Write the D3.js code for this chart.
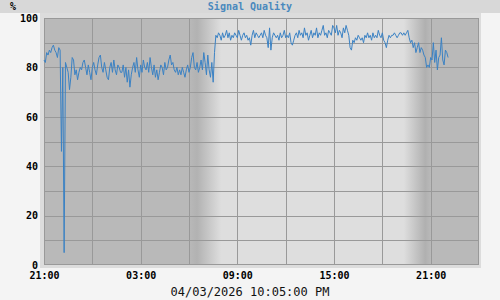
<!DOCTYPE html>
<html>
<head>
<meta charset="utf-8">
<script src="https://cdn.jsdelivr.net/npm/d3@7"></script>
<style>
	body { margin: 0; background: #f4f4f4; }
	svg { display: block; font-family: "DejaVu Sans Mono", monospace; }
</style>
</head>
<body>
<div id="chart"></div>
<script>
// Signal quality, one reading every 5 minutes from 21:00 on 04/02
const START = "2026-04-02T21:00:00";
const STEP_MINUTES = 5;
const quality = [
	83, 82, 86, 85, 87, 86, 88, 89, 87, 86, 84, 88, 87,
	46, 80, 5,
	82, 80, 78, 71, 76, 84, 83, 77, 79, 75, 78, 80,
	79, 82, 83, 80, 77, 81, 78, 75, 80, 82, 79, 77, 81, 84, 85, 80, 78, 82, 79, 76,
	75, 80, 82, 78, 83, 79, 77, 81, 80, 78,
	78, 81, 76, 80, 74, 79, 72, 77, 80, 82, 78, 84, 79, 76, 81, 78, 83, 80,
	79, 82, 78, 84, 80, 77, 81, 76, 79, 75, 78, 81, 80, 77, 82, 79, 80, 83, 85, 81, 82, 79, 78, 80, 77,
	79, 77, 80, 78, 76, 79, 81, 78, 80, 84, 86, 80, 79, 82, 78, 80, 83, 79, 86, 82, 77, 85, 79, 76, 82, 74, 86,
	93, 92, 94, 93, 91, 94, 92, 93, 95, 92, 94, 91, 93, 92, 94, 93, 92, 95, 93, 91, 93, 94, 92, 93, 91, 92, 89, 93, 95, 92, 94, 93, 92,
	93, 94, 92, 95, 93, 92, 88, 96, 87, 92, 94, 93, 92, 93, 91, 94, 92, 93, 95, 92, 93, 92, 94, 90, 89,
	91, 93, 94, 92, 95, 93, 94, 92, 96, 93, 94, 91, 93, 95, 92, 94, 93, 96, 92, 94, 93, 95, 97, 93, 94, 92, 95, 94, 93, 97,
	96, 94, 97, 93, 95, 94, 92, 96, 94, 97, 95, 93, 88, 87, 91, 90, 92, 91, 93, 92, 91, 92, 90, 93, 92,
	94, 92, 93, 91, 94, 92, 93, 92, 95, 93, 92, 94, 91, 90, 88, 91, 93, 92, 93, 93, 94, 93, 92, 93, 94, 94, 93, 94, 93, 94,
	95, 92, 90, 91, 88, 90, 86, 88, 90, 86, 88, 87, 85, 84, 80, 81, 80, 84, 83, 90, 82, 87, 79, 84, 85, 92, 83, 81, 87, 86, 84,
];

// x domain and day / night shading
const X_DOMAIN = ["2026-04-02T21:00:00", "2026-04-04T00:00:00"];
const DAWN = ["2026-04-03T06:00:00", "2026-04-03T06:30:00", "2026-04-03T08:00:00"];
const DUSK = ["2026-04-03T19:20:00", "2026-04-03T20:40:00", "2026-04-03T21:00:00"];
const Y_LABELS = [0, 20, 40, 60, 80, 100];
const Y_GRID = [10, 20, 30, 40, 50, 60, 70, 80, 90];

const TITLE = "Signal Quality";
const UNIT = "%";
const STAMP = "04/03/2026 10:05:00 PM";

const WIDTH = 500;
const HEIGHT = 300;
const MARGIN = { top: 18, right: 21, bottom: 35, left: 44 };

const svg = d3.select("#chart")
	.append("svg")
	.attr("width", WIDTH)
	.attr("height", HEIGHT);

// title bar
svg.append("rect")
	.attr("width", WIDTH)
	.attr("height", 13)
	.attr("fill", "#d8d8d8");

svg.append("text")
	.attr("x", WIDTH / 2)
	.attr("y", 10)
	.attr("text-anchor", "middle")
	.style("font-size", "10px")
	.style("font-weight", "bold")
	.attr("fill", "#4a89be")
	.text(TITLE);

svg.append("text")
	.attr("x", 10)
	.attr("y", 10)
	.style("font-size", "10px")
	.style("font-weight", "bold")
	.text(UNIT);

const x = d3.scaleTime()
	.domain(X_DOMAIN.map((d) => new Date(d)))
	.range([MARGIN.left, WIDTH - MARGIN.right]);

const y = d3.scaleLinear()
	.domain([0, 100])
	.range([HEIGHT - MARGIN.bottom, MARGIN.top]);

// frame round the plot
svg.append("rect")
	.attr("x", 40)
	.attr("y", 13)
	.attr("width", WIDTH - MARGIN.right + 2 - 40)
	.attr("height", HEIGHT - MARGIN.bottom + 3 - 13)
	.attr("fill", "#dcdcdc");

// day / night gradient
const x0 = x.range()[0];
const span = x.range()[1] - x0;
const off = (t) => `${((x(new Date(t)) - x0) / span) * 100}%`;
const NIGHT = "#b9b9b9";
const DAY = "#dedede";
const grad = svg.append("defs")
	.append("linearGradient")
	.attr("id", "daylight")
	.attr("x1", "0%")
	.attr("x2", "100%");
[
	[DAWN[0], NIGHT], [DAWN[1], "#b2b2b2"], [DAWN[2], DAY],
	[DUSK[0], DAY], [DUSK[1], "#b0b0b0"], [DUSK[2], NIGHT],
].forEach(([t, c]) => {
	grad.append("stop").attr("offset", off(t)).attr("stop-color", c);
});

svg.append("rect")
	.attr("x", x0)
	.attr("y", y(100))
	.attr("width", span)
	.attr("height", y(0) - y(100))
	.attr("fill", "url(#daylight)");

// grid
const xGrid = d3.timeHour.every(3).range(x.domain()[0], x.domain()[1]).slice(1);
svg.append("g")
	.selectAll("line")
	.data(xGrid)
	.join("line")
	.attr("x1", (d) => Math.round(x(d)) + 0.5)
	.attr("x2", (d) => Math.round(x(d)) + 0.5)
	.attr("y1", y(100))
	.attr("y2", y(0))
	.attr("stroke", "#999");

svg.append("g")
	.selectAll("line")
	.data(Y_GRID)
	.join("line")
	.attr("x1", x0)
	.attr("x2", x0 + span)
	.attr("y1", (d) => Math.round(y(d)) + 0.5)
	.attr("y2", (d) => Math.round(y(d)) + 0.5)
	.attr("stroke", "#999");

svg.append("rect")
	.attr("x", x0 + 0.5)
	.attr("y", y(100) + 0.5)
	.attr("width", span - 1)
	.attr("height", y(0) - y(100) - 1)
	.attr("fill", "none")
	.attr("stroke", "#999");

// series
const t0 = new Date(START);
const points = quality.map((v, i) => ({
	t: d3.timeMinute.offset(t0, i * STEP_MINUTES),
	v: v,
}));

svg.append("path")
	.datum(points)
	.attr("fill", "none")
	.attr("stroke", "#3b82c4")
	.attr("stroke-width", 1)
	.attr("d", d3.line().x((d) => x(d.t)).y((d) => y(d.v)));

// axes
const xLabels = d3.timeHour.every(3)
	.range(x.domain()[0], x.domain()[1])
	.filter((d) => (d.getHours() - 21 + 24) % 6 === 0);

const xAxis = svg.append("g")
	.attr("transform", `translate(0, ${y(0)})`)
	.call(d3.axisBottom(x)
		.tickValues(xLabels)
		.tickSize(0)
		.tickPadding(7)
		.tickFormat(d3.timeFormat("%H:%M")));
xAxis.select(".domain").remove();
xAxis.selectAll("text")
	.style("font-family", "DejaVu Sans Mono")
	.style("font-size", "10px")
	.style("font-weight", "bold")
	.attr("fill", "#000");

const yAxis = svg.append("g")
	.attr("transform", `translate(${x0}, 0)`)
	.call(d3.axisLeft(y)
		.tickValues(Y_LABELS)
		.tickSize(0)
		.tickPadding(6));
yAxis.select(".domain").remove();
yAxis.selectAll("text")
	.style("font-family", "DejaVu Sans Mono")
	.style("font-size", "10px")
	.style("font-weight", "bold")
	.attr("fill", "#000");

svg.append("text")
	.attr("x", WIDTH / 2)
	.attr("y", 296)
	.attr("text-anchor", "middle")
	.style("font-size", "12px")
	.attr("fill", "#111")
	.text(STAMP);
</script>
</body>
</html>
